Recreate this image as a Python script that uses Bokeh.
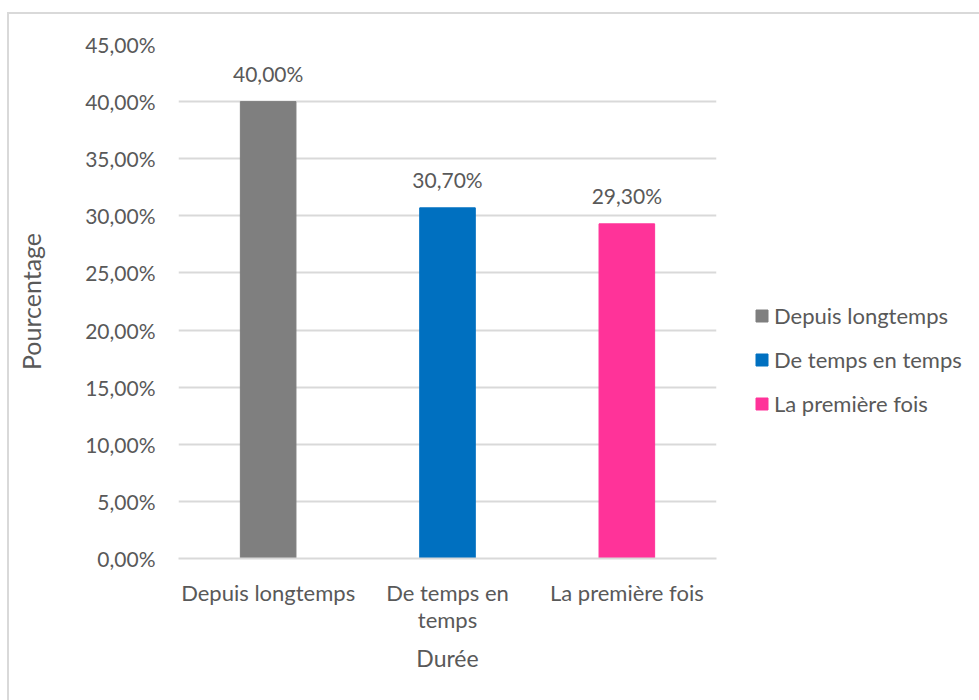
from bokeh.plotting import figure
from bokeh.models import ColumnDataSource, FixedTicker, Legend, LegendItem, FactorRange, Range1d
from bokeh.embed import file_html
from bokeh.resources import INLINE
from bokeh.core.properties import value

# ---- data ----
categories = ["Depuis longtemps", "De temps en\ntemps", "La première fois"]
legend_labels = ["Depuis longtemps", "De temps en temps", "La première fois"]
percentages = [40.0, 30.7, 29.3]
value_labels = ["40,00%", "30,70%", "29,30%"]
colors = ["#7f7f7f", "#0070c0", "#ff3399"]
y_ticks = [0, 5, 10, 15, 20, 25, 30, 35, 40, 45]
y_tick_labels = ["0,00%", "5,00%", "10,00%", "15,00%", "20,00%", "25,00%",
                 "30,00%", "35,00%", "40,00%", "45,00%"]

FONT = "Lato"
TXT = "#595959"

src = ColumnDataSource(dict(x=categories, top=percentages, color=colors,
                            lab=value_labels, leg=legend_labels))

p = figure(x_range=FactorRange(*categories, range_padding=0),
           y_range=Range1d(0, 45),
           frame_width=538, frame_height=514,
           output_backend="svg", toolbar_location=None,
           min_border_left=169, min_border_right=0, min_border_top=30,
           min_border_bottom=142)
p.styles = {"margin-left": "7px", "margin-top": "12px",
            "border-left": "2px solid #d9d9d9", "border-top": "2px solid #d9d9d9"}

p.outline_line_color = None
p.background_fill_color = "white"
p.border_fill_color = "white"

r = p.vbar(x="x", top="top", width=0.31, color="color", source=src)

p.text(x="x", y="top", text="lab", source=src, text_align="center",
       text_baseline="bottom", y_offset=-16, text_font=value(FONT),
       text_font_size="21px", text_color=TXT)

# y axis
p.yaxis.ticker = FixedTicker(ticks=y_ticks)
p.yaxis.major_label_overrides = {t: l for t, l in zip(y_ticks, y_tick_labels)}
p.yaxis.axis_line_color = None
p.yaxis.major_tick_line_color = None
p.yaxis.minor_tick_line_color = None
p.yaxis.major_label_standoff = 17
p.yaxis.major_label_text_font = FONT
p.yaxis.major_label_text_font_size = "21px"
p.yaxis.major_label_text_color = TXT
p.yaxis.axis_label = "Pourcentage"
p.yaxis.axis_label_text_font = FONT
p.yaxis.axis_label_text_font_size = "25px"
p.yaxis.axis_label_text_font_style = "normal"
p.yaxis.axis_label_text_color = TXT
p.yaxis.axis_label_standoff = 36

# x axis
p.xaxis.axis_line_color = "#d9d9d9"
p.xaxis.axis_line_width = 2
p.xaxis.major_tick_line_color = None
p.xaxis.minor_tick_line_color = None
p.xaxis.major_label_standoff = 14
p.xaxis.major_label_text_font = FONT
p.xaxis.major_label_text_font_size = "22px"
p.xaxis.major_label_text_color = TXT
p.xaxis.major_label_text_line_height = 1.0
p.xaxis.axis_label = "Durée"
p.xaxis.axis_label_text_font = FONT
p.xaxis.axis_label_text_font_size = "23px"
p.xaxis.axis_label_text_font_style = "normal"
p.xaxis.axis_label_text_color = TXT
p.xaxis.axis_label_standoff = 8

p.xgrid.grid_line_color = None
p.ygrid.grid_line_color = "#d9d9d9"
p.ygrid.grid_line_width = 2

items = [LegendItem(label=legend_labels[i], renderers=[r], index=i) for i in range(3)]
legend = Legend(items=items, location=(38, 141), orientation="vertical",
                glyph_width=15, glyph_height=15, label_standoff=5, spacing=17,
                padding=0, margin=0, border_line_color=None,
                background_fill_alpha=0, label_text_font=FONT,
                label_text_font_size="22px", label_text_color=TXT)
p.add_layout(legend, "right")

open("out.html", "w").write(file_html(p, INLINE))
